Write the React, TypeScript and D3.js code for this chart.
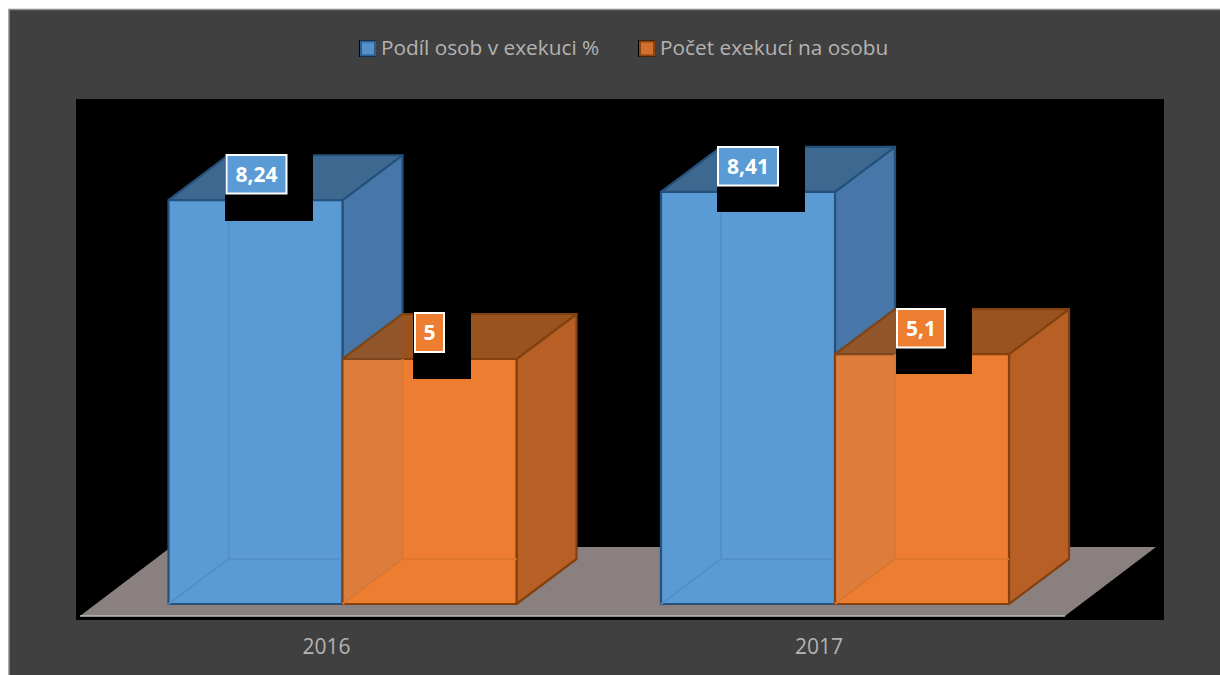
import React from "react";
import * as d3 from "d3";

const categories = ["2016", "2017"];
const seriesNames = ["Podíl osob v exekuci %", "Počet exekucí na osobu"];
const share = [8.24, 8.41];
const perPerson = [5, 5.1];
const labels = [["8,24", "8,41"], ["5", "5,1"]];

const font = "'Open Sans', sans-serif";
const W = 1220, H = 675;
const DX = 60, DY = -45;
const y = d3.scaleLinear().domain([0, 10]).range([604, 114]);
const x0 = d3.scalePoint().domain(categories).range([168.5, 661]);
const x1 = d3.scaleOrdinal<number, number>().domain([0, 1, 2]).range([0, 174, 348]);

const pal = [
  { front: "#5b9bd5", side: "#4677a8", top: "#3d6890", edge: "#25517d", inner: "#5390c7", swatch: "#5590c8", swEdge: "#2c6093" },
  { front: "#ed7d31", side: "#b85f26", top: "#99531f", edge: "#84410f", inner: "#e0772f", swatch: "#d1702e", swEdge: "#8a4513" },
];
const pts = (a: number[][]) => a.map((p) => p.join(",")).join(" ");

const boxes = [
  { s: 0, c: 0, bx: 225, bw: 88, by: 153.5, bh: 67.5, lx: 226.5, lw: 60, ly: 155, lh: 38.5 },
  { s: 0, c: 1, bx: 717, bw: 88, by: 145, bh: 67, lx: 718, lw: 60, ly: 147, lh: 38.5 },
  { s: 1, c: 0, bx: 413, bw: 58, by: 312, bh: 67, lx: 415, lw: 29, ly: 313, lh: 39 },
  { s: 1, c: 1, bx: 896, bw: 76, by: 308, bh: 66, lx: 897, lw: 48, ly: 309, lh: 38.5 },
];

function Bar({ c, s, v }: { c: string; s: number; v: number }) {
  const p = pal[s];
  const xa = x0(c)! + x1(s), xb = x0(c)! + x1(s + 1);
  const yb = y(0), yt = y(v);
  const common = { stroke: p.edge, strokeWidth: 2.2, strokeLinejoin: "round" as const };
  return (
    <g>
      <polygon points={pts([[xb, yt], [xb + DX, yt + DY], [xb + DX, yb + DY], [xb, yb]])} fill={p.side} {...common} />
      <polygon points={pts([[xa, yt], [xa + DX, yt + DY], [xb + DX, yt + DY], [xb, yt]])} fill={p.top} {...common} />
      <rect x={xa} y={yt} width={xb - xa} height={yb - yt} fill={p.front} {...common} />
      <path d={`M${xa},${yb}L${xa + DX},${yb + DY}L${xb},${yb + DY}M${xa + DX},${yb + DY}L${xa + DX},${yt}`} fill="none" stroke={p.inner} strokeWidth={2} />
    </g>
  );
}

export default function App() {
  return (
    <svg width={W} height={H} style={{ position: "absolute", left: 0, top: 0, display: "block" }} fontFamily={font}>
      <rect width={W} height={H} fill="#ffffff" />
      <rect x={9} y={9.5} width={W} height={H} fill="#404040" stroke="#8c8c8c" strokeWidth={1.5} />
      <rect x={76} y={99} width={1088} height={521} fill="#000000" />
      <polygon points={pts([[80, 616], [1065, 616], [1156, 547], [171, 547]])} fill="#8a8080" />
      <line x1={80} x2={1065} y1={616} y2={616} stroke="#bdbdbd" strokeWidth={1.5} />
      {categories.map((c, i) => {
        const xm = x0(c)! + x1(1);
        const yo = y(perPerson[i]);
        return (
          <g key={c}>
            <Bar c={c} s={0} v={share[i]} />
            <Bar c={c} s={1} v={perPerson[i]} />
            <polygon points={pts([[xm, yo], [xm + DX, yo + DY], [xm + DX, y(0) + DY], [xm, y(0)]])} fill="#4677a8" fillOpacity={0.09} />
            <text x={xm - 16} y={654} textAnchor="middle" fontSize={21} fill="#b3b3b3">{c}</text>
          </g>
        );
      })}
      {boxes.map((b) => (
        <g key={`${b.s}-${b.c}`}>
          <rect x={b.bx} y={b.by} width={b.bw} height={b.bh} fill="#000000" />
          <rect x={b.lx} y={b.ly} width={b.lw} height={b.lh} fill={pal[b.s].front} stroke="#ffffff" strokeWidth={2} />
          <text x={b.lx + b.lw / 2} y={b.ly + 27} textAnchor="middle" fontSize={21} fontWeight={700} fill="#ffffff">{labels[b.s][b.c]}</text>
        </g>
      ))}
      {seriesNames.map((n, i) => {
        const lx = [360, 639][i];
        return (
          <g key={n}>
            <rect x={lx - 1} y={40} width={17} height={17} fill="#000" />
            <rect x={lx + 1} y={41.5} width={14} height={14} fill={pal[i].swatch} stroke={pal[i].swEdge} strokeWidth={2} />
            <text x={lx + 21} y={55} fontSize={20.8} fill="#b3b3b3">{n}</text>
          </g>
        );
      })}
    </svg>
  );
}
